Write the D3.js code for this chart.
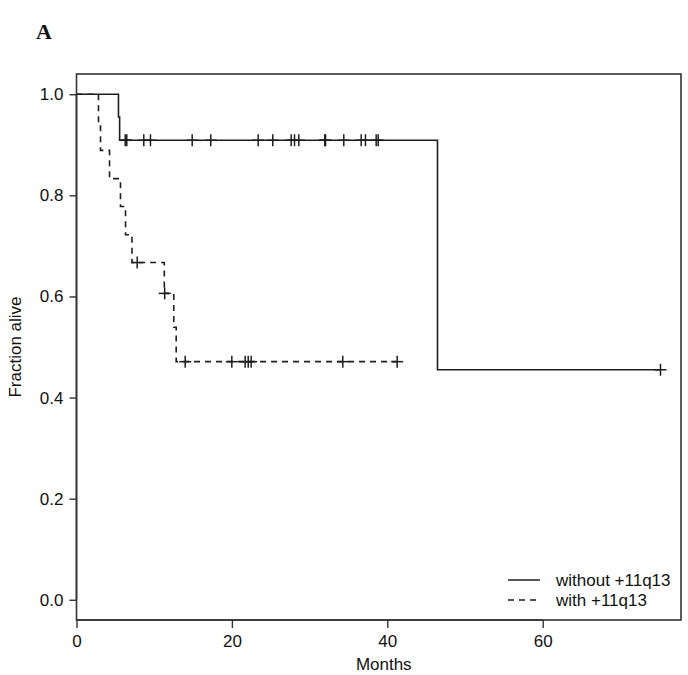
<!DOCTYPE html>
<html><head><meta charset="utf-8">
<script src="https://cdn.jsdelivr.net/npm/d3@7"></script>
<style>body{margin:0;background:#fff}svg{display:block}</style>
</head><body>
<svg id="c" width="688" height="675"></svg>
<script>
// ---- data ----
const xTicks = [0, 20, 40, 60];
const yTicks = [0.0, 0.2, 0.4, 0.6, 0.8, 1.0];
const seriesNames = ["without +11q13", "with +11q13"];

// without +11q13 (solid): step times and survival after each step
const withoutTimes = [0, 5.4, 5.55, 46.46];
const withoutSurv  = [1.0, 0.955, 0.909, 0.455];
const withoutEnd = 75.16;
const withoutCensorTimes = [6.27, 6.47, 8.66, 9.52, 14.89, 17.28, 23.38, 25.26, 27.63, 28.06, 28.61, 31.95, 32.05, 34.40, 36.64, 37.19, 38.57, 38.83, 75.16];
const withoutCensorSurv  = [0.909, 0.909, 0.909, 0.909, 0.909, 0.909, 0.909, 0.909, 0.909, 0.909, 0.909, 0.909, 0.909, 0.909, 0.909, 0.909, 0.909, 0.909, 0.455];

// with +11q13 (dashed)
const withTimes = [0, 2.83, 3.09, 4.25, 5.66, 6.31, 7.14, 11.3, 12.52, 12.83];
const withSurv  = [1.0, 0.944, 0.889, 0.833, 0.778, 0.722, 0.667, 0.606, 0.539, 0.471];
const withEnd = 41.27;
const withCensorTimes = [7.81, 11.35, 13.99, 19.99, 21.71, 22.10, 22.48, 34.27, 41.27];
const withCensorSurv  = [0.667, 0.606, 0.471, 0.471, 0.471, 0.471, 0.471, 0.471, 0.471];

// ---- drawing ----
const svg = d3.select("#c");
const x = d3.scaleLinear().domain([0, 77.8]).range([76.5, 681]);
const y = d3.scaleLinear().domain([-0.04, 1.04]).range([620, 74]);
const ink = "#1e1e1e";
const font = "'Liberation Sans', Arial, sans-serif";

svg.append("text").attr("x", 36).attr("y", 39)
  .attr("font-family", "'Liberation Serif', 'Times New Roman', serif")
  .attr("font-weight", "bold").attr("font-size", 22).attr("fill", "#111").text("A");

// frame
svg.append("rect").attr("x", x.range()[0]).attr("y", y.range()[1])
  .attr("width", x.range()[1] - x.range()[0]).attr("height", y.range()[0] - y.range()[1])
  .attr("fill", "none").attr("stroke", "#333").attr("stroke-width", 1.6);

// axes
const xAxis = d3.axisBottom(x).tickValues(xTicks).tickFormat(d3.format("d")).tickSize(8).tickPadding(7);
const gx = svg.append("g").attr("transform", `translate(0,${y.range()[0]})`).call(xAxis);
gx.select(".domain").attr("stroke", "#333").attr("stroke-width", 1.6)
  .attr("d", `M${x(0)},0H${x(60)}`);
gx.selectAll(".tick line").attr("stroke", "#333").attr("stroke-width", 1.4);
gx.selectAll(".tick text").attr("font-family", font).attr("font-size", 17).attr("fill", "#111");

const yAxis = d3.axisLeft(y).tickValues(yTicks).tickFormat(d3.format(".1f")).tickSize(7).tickPadding(6);
const gy = svg.append("g").attr("transform", `translate(${x.range()[0]},0)`).call(yAxis);
gy.select(".domain").attr("stroke", "#333").attr("stroke-width", 1.6)
  .attr("d", `M0,${y(0)}V${y(1)}`);
gy.selectAll(".tick line").attr("stroke", "#333").attr("stroke-width", 1.4);
gy.selectAll(".tick text").attr("font-family", font).attr("font-size", 17).attr("fill", "#111");

svg.append("text").attr("x", (x(0) + x(77.8)) / 2 + 5).attr("y", 670).attr("text-anchor", "middle")
  .attr("font-family", font).attr("font-size", 17).attr("fill", "#111").text("Months");
svg.append("text").attr("transform", `translate(21,${(y(-0.04) + y(1.04)) / 2}) rotate(-90)`)
  .attr("text-anchor", "middle").attr("font-family", font).attr("font-size", 17).attr("fill", "#111")
  .text("Fraction alive");

// step curves
function stepData(times, surv, end) {
  const pts = times.map((t, i) => [t, surv[i]]);
  pts.push([end, surv[surv.length - 1]]);
  return pts;
}
const line = d3.line().x(d => x(d[0])).y(d => y(d[1])).curve(d3.curveStepAfter);

svg.append("path").datum(stepData(withoutTimes, withoutSurv, withoutEnd))
  .attr("d", line).attr("fill", "none").attr("stroke", ink).attr("stroke-width", 1.6);
svg.append("path").datum(stepData(withTimes, withSurv, withEnd))
  .attr("d", line).attr("fill", "none").attr("stroke", ink).attr("stroke-width", 1.6)
  .attr("stroke-dasharray", "6,5");

// censor marks
function censors(times, surv) {
  const g = svg.append("g").attr("stroke", ink).attr("stroke-width", 1.5);
  times.forEach((t, i) => {
    const cx = x(t), cy = y(surv[i]);
    g.append("line").attr("x1", cx - 6).attr("x2", cx + 6).attr("y1", cy).attr("y2", cy);
    g.append("line").attr("x1", cx).attr("x2", cx).attr("y1", cy - 6).attr("y2", cy + 6);
  });
}
censors(withoutCensorTimes, withoutCensorSurv);
censors(withCensorTimes, withCensorSurv);

// legend
const legend = svg.append("g");
seriesNames.forEach((name, i) => {
  const ly = 580 + i * 20;
  legend.append("line").attr("x1", 508).attr("x2", 540).attr("y1", ly).attr("y2", ly)
    .attr("stroke", ink).attr("stroke-width", 1.5)
    .attr("stroke-dasharray", i === 1 ? "6,5" : null);
  legend.append("text").attr("x", 556).attr("y", ly + 6)
    .attr("font-family", font).attr("font-size", 17).attr("fill", "#111").text(name);
});
</script>
</body></html>
